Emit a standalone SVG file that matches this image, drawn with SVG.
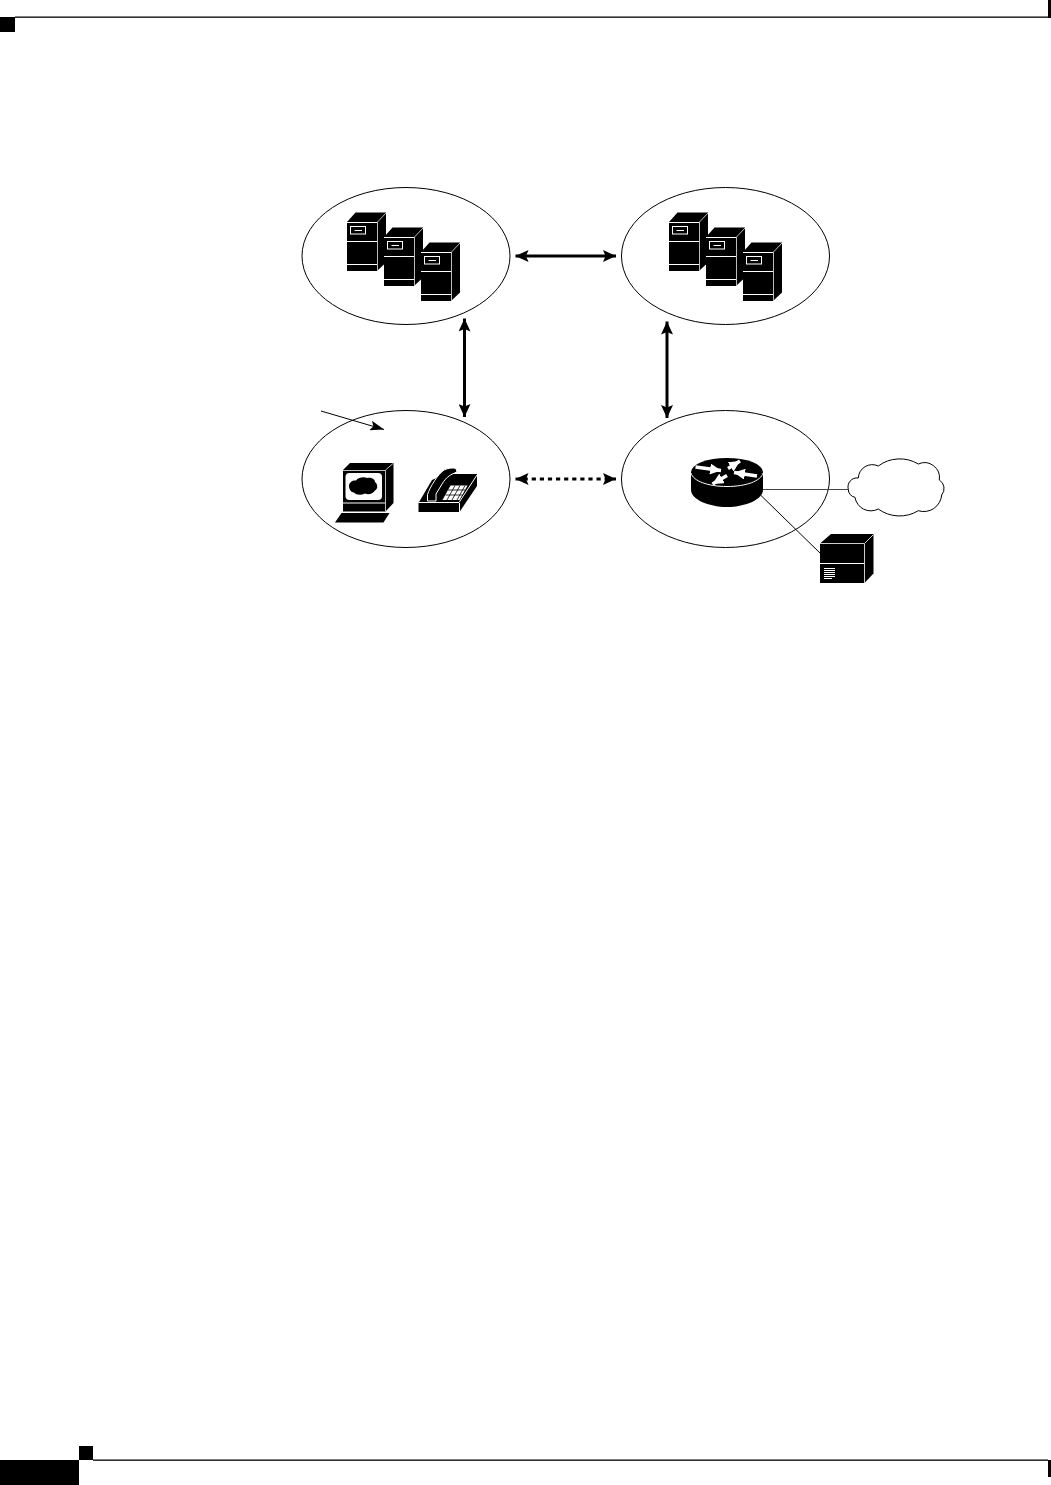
<svg xmlns="http://www.w3.org/2000/svg" width="1051" height="1485" viewBox="0 0 1051 1485">
<style>
.zone{fill:#fff;stroke:#000;stroke-width:1}
.k{fill:#000}
.w{fill:#fff}
.wl{fill:none;stroke:#fff;stroke-width:1}
.ln{fill:none;stroke:#000;stroke-width:3}
.dash{fill:none;stroke:#000;stroke-width:3;stroke-dasharray:4.2 3.9}
.thin{fill:none;stroke:#000;stroke-width:1}
.gr{fill:none;stroke:#444;stroke-width:1}
.ra{fill:none;stroke:#fff;stroke-width:3.400}
</style>
<defs>
<marker id="ah" viewBox="0 0 13 12" refX="13" refY="6" markerUnits="userSpaceOnUse" markerWidth="13" markerHeight="12" orient="auto-start-reverse"><path d="M0 0L13 6L0 12L2.500 6Z"/></marker>
<marker id="pt" viewBox="0 0 14 10" refX="14" refY="5" markerUnits="userSpaceOnUse" markerWidth="14" markerHeight="10" orient="auto"><path d="M0 0L14 5L0 10L3 5Z"/></marker>
<marker id="rh" viewBox="0 0 11 11" refX="11" refY="5.500" markerUnits="userSpaceOnUse" markerWidth="11" markerHeight="11" orient="auto"><path fill="#fff" d="M0 0L11 5.500L0 11Z"/></marker>
<g id="srv">
<path class="k" d="M0 0L8.500-9.500H39V40.500L30 49H0Z"/>
<path fill="none" stroke="#bbb" d="M30.500 0V49M30.500 0L39-9"/>
<path class="wl" d="M0 .5H30M0 19.500H30M0 42.500H30"/>
<rect x="3.500" y="4.500" width="15" height="7.500" fill="none" stroke="#fff"/>
<path class="wl" d="M7.500 8.500H15"/>
</g>
</defs>
<rect width="1051" height="1485" fill="#fff"/>
<g id="page-marks">
<rect class="k" x="0" y="17" width="15" height="15"/>
<rect class="k" x="15" y="16.500" width="1033" height="1.300"/>
<rect class="k" x="1048" y="0" width="3" height="18"/>
<rect class="k" x="0" y="1460" width="79" height="25"/>
<rect class="k" x="79" y="1446" width="14" height="14"/>
<rect class="k" x="93" y="1459.500" width="955" height="1.300"/>
<rect class="k" x="1048" y="1460" width="3" height="17"/>
</g>
<ellipse class="zone" id="zone-tl" cx="406" cy="256" rx="104" ry="68.500"/>
<ellipse class="zone" id="zone-tr" cx="725.500" cy="256" rx="104" ry="68.500"/>
<ellipse class="zone" id="zone-bl" cx="406" cy="479" rx="104" ry="68.500"/>
<ellipse class="zone" id="zone-br" cx="725.500" cy="479" rx="104" ry="68.500"/>
<g id="connectors">
<path class="ln" d="M515.500 256H616" marker-start="url(#ah)" marker-end="url(#ah)"/>
<path class="ln" d="M464.500 318.500V417" marker-start="url(#ah)" marker-end="url(#ah)"/>
<path class="ln" d="M667 321.500V418" marker-start="url(#ah)" marker-end="url(#ah)"/>
<path class="dash" d="M515.500 479H616" marker-start="url(#ah)" marker-end="url(#ah)"/>
<path class="thin" d="M321 411L384 429.500" marker-end="url(#pt)"/>
<path class="gr" d="M762 489.500H849"/>
<path class="thin" d="M761 495.500L821 554"/>
</g>
<g id="servers-tl">
<use href="#srv" x="347" y="222"/><use href="#srv" x="384" y="237"/><use href="#srv" x="421" y="252"/>
</g>
<g id="servers-tr">
<use href="#srv" x="669" y="222"/><use href="#srv" x="706" y="237"/><use href="#srv" x="743" y="252"/>
</g>
<g id="workstation">
<path class="k" d="M343 470L350 463H393.500V503L385.500 511.500H343Z"/>
<path fill="none" stroke="#bbb" d="M385.500 470V511.500M385.500 470L393 463.500M343 470.500H385"/>
<path class="wl" d="M343 503H385"/>
<rect class="w" x="345.500" y="473" width="36.500" height="27" rx="4"/>
<path class="k" d="M349 486C349 482 353 480 356 480.500C358 477.500 364 476.500 367 478C371 477 375 479 375 482C378 484 378 489 375 490.500C373 494 368 495 365 493.500C361 495.500 356 495 354 492.500C351 492.500 349 489 349 486Z"/>
<path class="k" d="M341.500 513H389.500L383.500 522.500H335Z"/>
</g>
<g id="phone">
<path class="k" d="M418.500 503L432 480L445 474H477V486L459.500 512H418.500Z"/>
<path fill="none" stroke="#fff" d="M418.500 502.500H459L477 475M459.500 503V512"/>
<path class="k" stroke="#fff" d="M427.500 501V494.500C430 487 438 474 444 470C448 468 453 467.500 456 468.500L457 472C451 474.500 447 476 442 484L436 494V501Z"/>
<path class="w" d="M450.500 485.500H467.500L459.500 500H442.500Z"/>
<path fill="none" stroke="#000" stroke-width=".8" d="M448 490H465M445.500 495H462.500M455 485.500L447 500M460 485.500L452 500M465 485.500L457 500"/>
</g>
<g id="router">
<path class="k" d="M691 472V490C691 499 708 507 727 507C746 507 763 499 763 490V472Z"/>
<ellipse class="k" cx="727" cy="472" rx="36" ry="14"/>
<path class="wl" d="M691 473C693 481 708 486.500 727 486.500C746 486.500 761 481 763 473"/>
<path class="ra" d="M695.500 467L721 470.500" marker-end="url(#rh)"/>
<path class="ra" d="M728 468.500L740 461" marker-end="url(#rh)"/>
<path class="ra" d="M757 476L734 472.500" marker-end="url(#rh)"/>
<path class="ra" d="M727 475.500L712.500 484" marker-end="url(#rh)"/>
</g>
<g id="cloud">
<path fill="#fff" stroke="#000" stroke-width="1" d="M848.300 489.300A9 9 0 0 1 858.300 478A14 14 0 0 1 878.300 466A36 36 0 0 1 918.300 464A15 15 0 0 1 939.300 480A10 10 0 0 1 941.700 495A18 18 0 0 1 918.300 510.700A36 36 0 0 1 878.300 509A16 16 0 0 1 855 497.300A8 8 0 0 1 848.300 489.300Z"/>
</g>
<g id="storage">
<path class="k" d="M820 543.500L831 534H873.500V573.500L864.500 583H820Z"/>
<path fill="none" stroke="#ccc" d="M864.500 543.500V583M864.500 543.500L873.500 534.500M820 543.500H864"/>
<path class="wl" d="M820 563.500H864"/>
<path class="wl" d="M824 568.500H835M824 570.500H835M824 572.500H835M824 574.500H835M824 576.500H835M824 578.500H832"/>
</g>
</svg>
